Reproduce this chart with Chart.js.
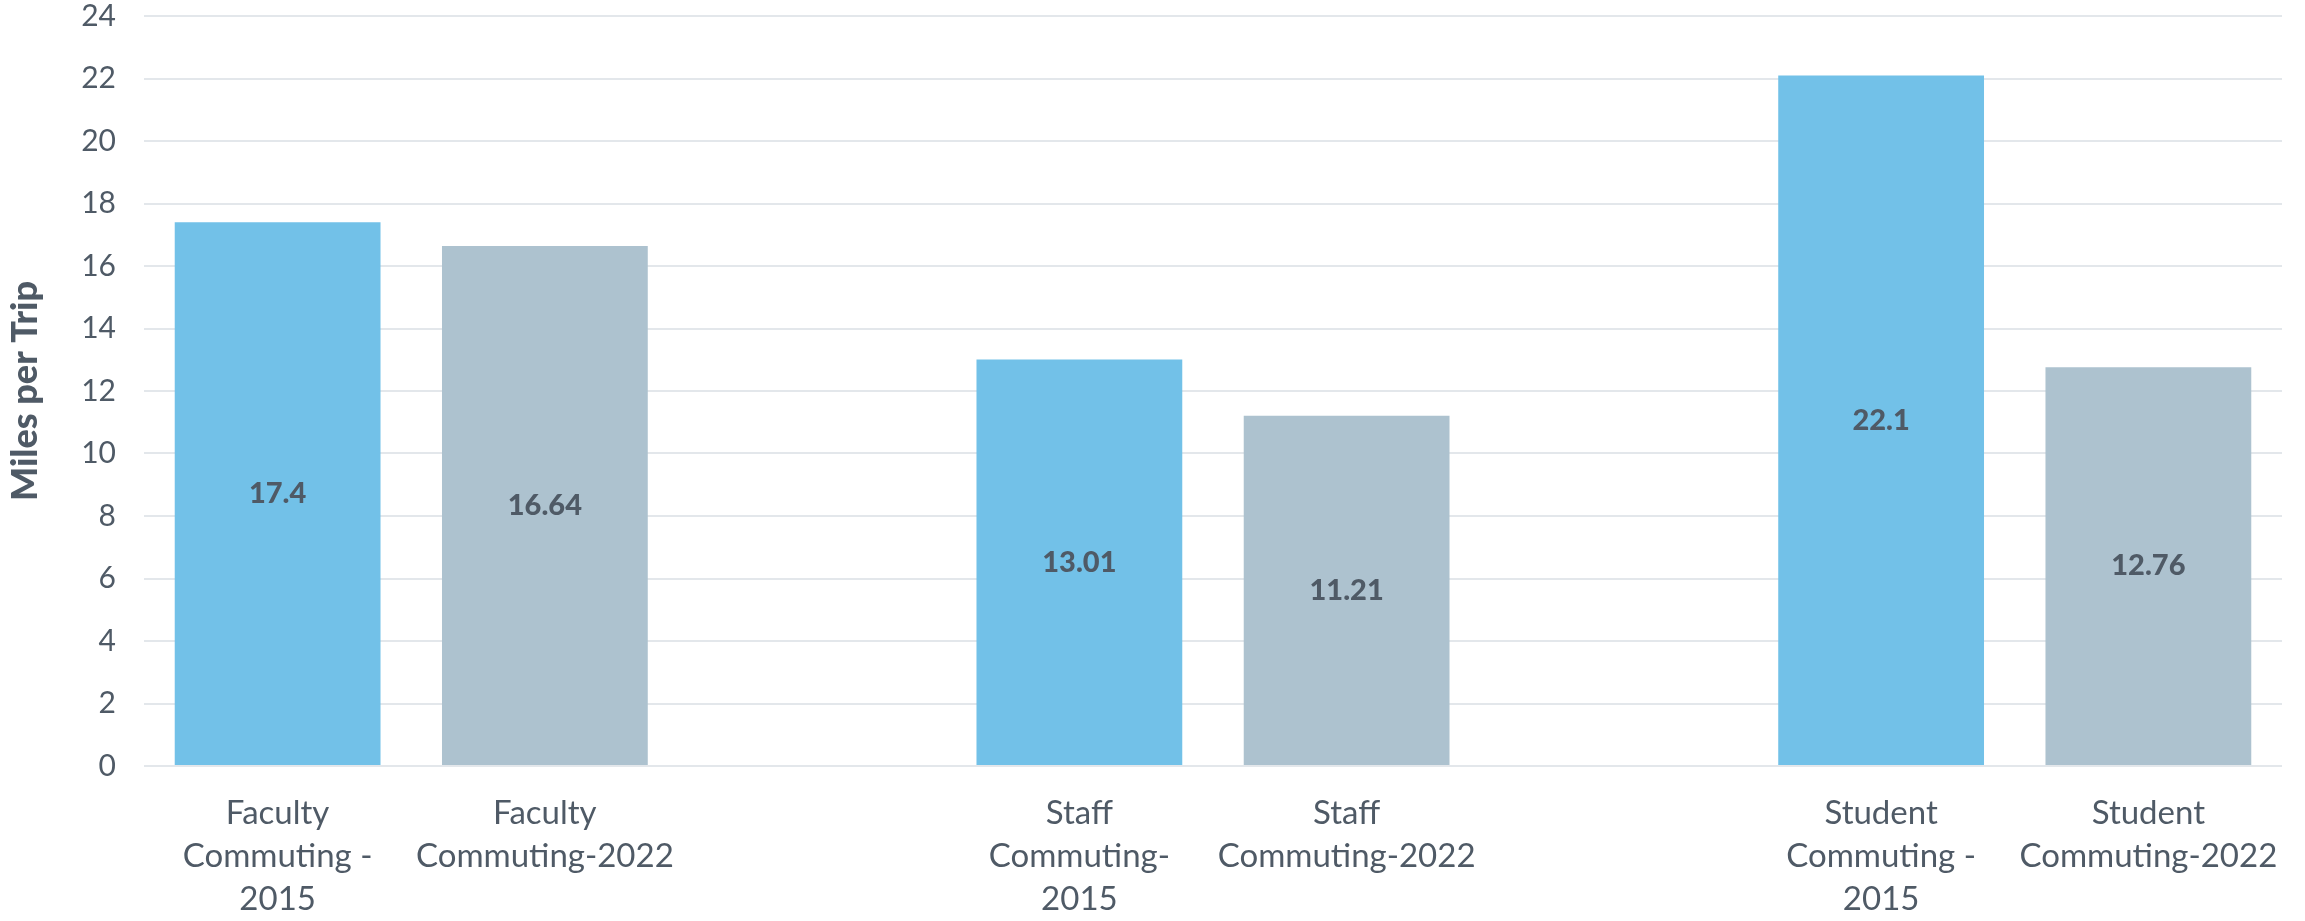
<!DOCTYPE html>
<html>
<head>
<meta charset="utf-8">
<title>Commuting Miles per Trip</title>
<script src="https://cdn.jsdelivr.net/npm/chart.js@4"></script>
<style>
  html, body { margin: 0; padding: 0; background: #ffffff; }
  #wrap { width: 2305px; height: 921px; }
</style>
</head>
<body>
<div id="wrap"><canvas id="chart" width="2305" height="921"></canvas></div>
<script>
// Categories (blank entries leave a gap between the groups)
const categories = [
  ['Faculty', 'Commuting -', '2015'],
  ['Faculty', 'Commuting-2022'],
  '',
  ['Staff', 'Commuting-', '2015'],
  ['Staff', 'Commuting-2022'],
  '',
  ['Student', 'Commuting -', '2015'],
  ['Student', 'Commuting-2022']
];

// Average miles per trip
const milesPerTrip = [17.4, 16.64, null, 13.01, 11.21, null, 22.1, 12.76];

// Y axis ticks
const yTicks = [0, 2, 4, 6, 8, 10, 12, 14, 16, 18, 20, 22, 24];

const yTitle = 'Miles per Trip';

const BLUE = '#72c1e8';
const GREY = '#adc2cf';
const TEXT = '#4f5a66';
const GRID = '#e3e7eb';

const barColors = categories.map(c => (Array.isArray(c) && c[c.length - 1].endsWith('2015')) ? BLUE : GREY);

// Value labels centred inside each bar
const centerLabels = {
  id: 'centerLabels',
  afterDatasetsDraw(chart) {
    const ctx = chart.ctx;
    const meta = chart.getDatasetMeta(0);
    const data = chart.data.datasets[0].data;
    ctx.save();
    ctx.font = '900 29px Lato, "Open Sans", sans-serif';
    ctx.fillStyle = TEXT;
    ctx.textAlign = 'center';
    ctx.textBaseline = 'middle';
    meta.data.forEach((bar, i) => {
      const v = data[i];
      if (v === null || v === undefined) return;
      const y = (bar.y + bar.base) / 2;
      ctx.fillText(String(v), bar.x, y);
    });
    ctx.restore();
  }
};

new Chart(document.getElementById('chart'), {
  type: 'bar',
  data: {
    labels: categories,
    datasets: [{
      data: milesPerTrip,
      backgroundColor: barColors,
      borderWidth: 0,
      barPercentage: 0.77,
      categoryPercentage: 1.0
    }]
  },
  options: {
    responsive: false,
    animation: false,
    layout: { padding: { top: 16, right: 23, bottom: 0, left: 0 } },
    plugins: {
      legend: { display: false },
      tooltip: { enabled: false },
      title: { display: false }
    },
    scales: {
      x: {
        grid: { display: false, drawTicks: false },
        border: { display: false },
        ticks: {
          autoSkip: false,
          maxRotation: 0,
          minRotation: 0,
          padding: 26,
          color: TEXT,
          font: { family: 'Lato, "Open Sans", sans-serif', size: 33, lineHeight: 1.3 }
        },
        afterFit(scale) { scale.height = 155; }
      },
      y: {
        min: 0,
        max: 24,
        afterBuildTicks(scale) { scale.ticks = yTicks.map(v => ({ value: v })); },
        grid: { color: GRID, lineWidth: 2, drawTicks: false },
        border: { display: false },
        ticks: {
          padding: 28,
          color: TEXT,
          font: { family: 'Lato, "Open Sans", sans-serif', size: 30 }
        },
        title: {
          display: true,
          text: yTitle,
          color: TEXT,
          padding: { top: 4, bottom: 0 },
          font: { family: 'Lato, "Open Sans", sans-serif', size: 36, weight: '900' }
        },
        afterFit(scale) {
          scale.width = 144;
          scale.paddingTop = 0;
          scale.paddingBottom = 0;
        }
      }
    }
  },
  plugins: [centerLabels]
});
</script>
</body>
</html>
